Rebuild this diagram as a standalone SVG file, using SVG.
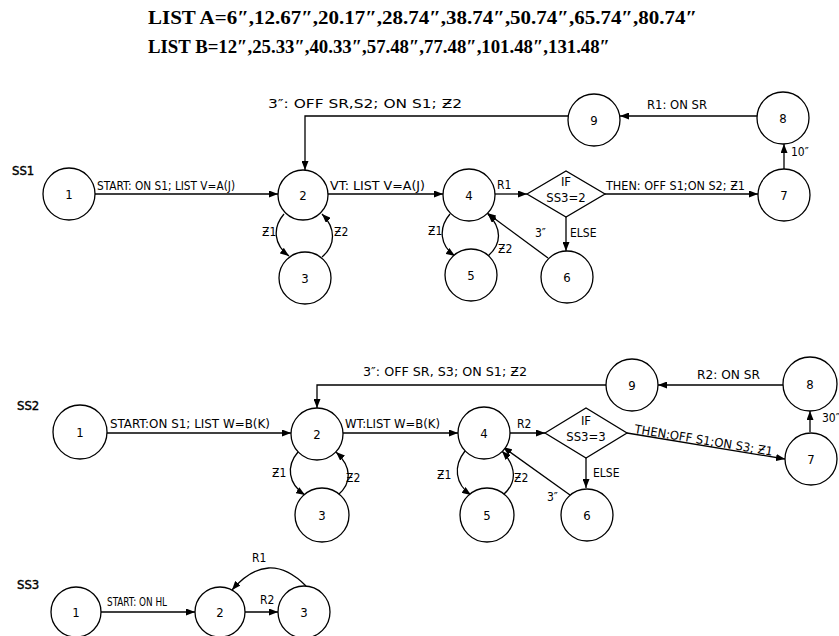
<svg xmlns="http://www.w3.org/2000/svg" width="839" height="636" viewBox="0 0 839 636">
<style>
.bg{fill:#fff}
.nd{fill:#fff;stroke:#000;stroke-width:1.3}
.ed{fill:none;stroke:#000;stroke-width:1.3}
.num{font-family:'DejaVu Sans Condensed','DejaVu Sans',sans-serif;font-stretch:condensed;font-size:13px;fill:#000;text-anchor:middle}
.lb{font-family:'DejaVu Sans Condensed','DejaVu Sans',sans-serif;font-stretch:condensed;font-size:12px;fill:#000}
.ss{font-family:'DejaVu Sans Condensed','DejaVu Sans',sans-serif;font-stretch:condensed;font-size:13px;fill:#000;stroke:#000;stroke-width:0.4}
.top{font-family:'Liberation Serif',serif;font-size:19px;fill:#000;font-weight:bold}
</style>
<defs>
<marker id="ah" markerUnits="userSpaceOnUse" markerWidth="9" markerHeight="7" refX="9" refY="3.5" orient="auto">
<path d="M0,0 L9,3.5 L0,7 z" fill="#000"/>
</marker>
</defs>
<rect class="bg" x="0" y="0" width="839" height="636"/>
<g id="header">
<text class="top" x="148" y="24" textLength="549" lengthAdjust="spacingAndGlyphs">LIST A=6″,12.67″,20.17″,28.74″,38.74″,50.74″,65.74″,80.74″</text>
<text class="top" x="148" y="53" textLength="462" lengthAdjust="spacingAndGlyphs">LIST B=12″,25.33″,40.33″,57.48″,77.48″,101.48″,131.48″</text>
</g>
<g id="connectors" marker-end="url(#ah)">
<path class="ed" d="M95,194 L278,194"/>
<path class="ed" d="M328,194 L443,194"/>
<path class="ed" d="M495,194 L527,194"/>
<path class="ed" d="M605,194 L758,194"/>
<path class="ed" d="M566,217 L566,251"/>
<path class="ed" d="M548,258 L487,213"/>
<path class="ed" d="M784,169 L784,144"/>
<path class="ed" d="M757,116 L620,116"/>
<path class="ed" d="M568,116 L305,116 L305,170"/>
<path class="ed" d="M284,214 C272,228 274,245 289,256"/>
<path class="ed" d="M322,257 C336,245 336,228 322,214"/>
<path class="ed" d="M450,214 C438,228 440,246 455,256"/>
<path class="ed" d="M488,256 C502,244 502,228 488,214"/>
<path class="ed" d="M107,433 L291,433"/>
<path class="ed" d="M343,433 L458,433"/>
<path class="ed" d="M510,433 L545,433"/>
<path class="ed" d="M627,433 L785,459"/>
<path class="ed" d="M586,458 L586,488"/>
<path class="ed" d="M570,495 L503,447"/>
<path class="ed" d="M810,432 L810,411"/>
<path class="ed" d="M783,385 L658,385"/>
<path class="ed" d="M607,385 L317,385 L317,408"/>
<path class="ed" d="M298,452 C286,466 288,484 305,495"/>
<path class="ed" d="M338,495 C352,483 352,467 336,452"/>
<path class="ed" d="M465,451 C453,466 455,484 471,495"/>
<path class="ed" d="M503,495 C517,483 517,467 502,451"/>
<path class="ed" d="M100,612 L195,612"/>
<path class="ed" d="M245,612 L278,612"/>
<path class="ed" d="M306,586 Q268,548 232,590"/>
</g>
<g id="edge-labels">
<text class="lb" x="97" y="190" textLength="138" lengthAdjust="spacingAndGlyphs">START: ON S1; LIST V=A(J)</text>
<text class="lb" x="330" y="190" textLength="95" lengthAdjust="spacingAndGlyphs">VT: LIST V=A(J)</text>
<text class="lb" x="262" y="236">Ƶ1</text>
<text class="lb" x="334" y="236">Ƶ2</text>
<text class="lb" x="268" y="108" textLength="194" lengthAdjust="spacingAndGlyphs">3″: OFF SR,S2; ON S1; Ƶ2</text>
<text class="lb" x="647" y="109" textLength="60" lengthAdjust="spacingAndGlyphs">R1: ON SR</text>
<text class="lb" x="791" y="156">10″</text>
<text class="lb" x="497" y="189">R1</text>
<text class="lb" x="606" y="190" textLength="139" lengthAdjust="spacingAndGlyphs">THEN: OFF S1;ON S2; Ƶ1</text>
<text class="lb" x="570" y="237">ELSE</text>
<text class="lb" x="535" y="237">3″</text>
<text class="lb" x="428" y="235">Ƶ1</text>
<text class="lb" x="498" y="253">Ƶ2</text>
<text class="lb" x="110" y="428" textLength="160" lengthAdjust="spacingAndGlyphs">START:ON S1; LIST W=B(K)</text>
<text class="lb" x="345" y="428" textLength="95" lengthAdjust="spacingAndGlyphs">WT:LIST W=B(K)</text>
<text class="lb" x="272" y="477">Ƶ1</text>
<text class="lb" x="346" y="482">Ƶ2</text>
<text class="lb" x="363" y="376" textLength="164" lengthAdjust="spacingAndGlyphs">3″: OFF SR, S3; ON S1; Ƶ2</text>
<text class="lb" x="697" y="379" textLength="63" lengthAdjust="spacingAndGlyphs">R2: ON SR</text>
<text class="lb" x="822" y="422">30″</text>
<text class="lb" x="517" y="428">R2</text>
<text class="lb" transform="translate(634,433) rotate(9.3)" x="0" y="0" textLength="140" lengthAdjust="spacingAndGlyphs">THEN:OFF S1;ON S3; Ƶ1</text>
<text class="lb" x="593" y="477">ELSE</text>
<text class="lb" x="547" y="501">3″</text>
<text class="lb" x="437" y="479">Ƶ1</text>
<text class="lb" x="514" y="482">Ƶ2</text>
<text class="lb" x="107" y="606" textLength="60" lengthAdjust="spacingAndGlyphs">START: ON HL</text>
<text class="lb" x="260" y="604">R2</text>
<text class="lb" x="252" y="562">R1</text>
</g>
<g id="ss1-label"><text class="ss" x="12" y="175">SS1</text></g>
<g id="ss1-n1"><circle class="nd" cx="69" cy="194" r="26"/><text class="num" x="69" y="199">1</text></g>
<g id="ss1-n2"><circle class="nd" cx="303" cy="195" r="25"/><text class="num" x="303" y="200">2</text></g>
<g id="ss1-n3"><circle class="nd" cx="305" cy="278" r="26"/><text class="num" x="305" y="283">3</text></g>
<g id="ss1-n4"><circle class="nd" cx="469" cy="195" r="26"/><text class="num" x="469" y="200">4</text></g>
<g id="ss1-n5"><circle class="nd" cx="471" cy="275" r="26"/><text class="num" x="471" y="280">5</text></g>
<g id="ss1-n6"><circle class="nd" cx="567" cy="277" r="26"/><text class="num" x="567" y="282">6</text></g>
<g id="ss1-n7"><circle class="nd" cx="784" cy="195" r="26"/><text class="num" x="784" y="200">7</text></g>
<g id="ss1-n8"><circle class="nd" cx="783" cy="118" r="26"/><text class="num" x="783" y="123">8</text></g>
<g id="ss1-n9"><circle class="nd" cx="594" cy="120" r="26"/><text class="num" x="594" y="125">9</text></g>
<g id="ss1-if"><polygon class="nd" points="527,194 566,171 605,194 566,217"/><text class="num" x="566" y="186" font-size="12">IF</text><text class="num" x="566" y="202" font-size="12">SS3=2</text></g>
<g id="ss2-label"><text class="ss" x="17" y="410">SS2</text></g>
<g id="ss2-n1"><circle class="nd" cx="80" cy="432" r="27"/><text class="num" x="80" y="437">1</text></g>
<g id="ss2-n2"><circle class="nd" cx="317" cy="434" r="26"/><text class="num" x="317" y="439">2</text></g>
<g id="ss2-n3"><circle class="nd" cx="322" cy="515" r="27"/><text class="num" x="322" y="520">3</text></g>
<g id="ss2-n4"><circle class="nd" cx="484" cy="433" r="26"/><text class="num" x="484" y="438">4</text></g>
<g id="ss2-n5"><circle class="nd" cx="487" cy="515" r="27"/><text class="num" x="487" y="520">5</text></g>
<g id="ss2-n6"><circle class="nd" cx="587" cy="515" r="26"/><text class="num" x="587" y="520">6</text></g>
<g id="ss2-n7"><circle class="nd" cx="811" cy="459" r="26"/><text class="num" x="811" y="464">7</text></g>
<g id="ss2-n8"><circle class="nd" cx="810" cy="384" r="27"/><text class="num" x="810" y="389">8</text></g>
<g id="ss2-n9"><circle class="nd" cx="632" cy="385" r="26"/><text class="num" x="632" y="390">9</text></g>
<g id="ss2-if"><polygon class="nd" points="545,433 586,408 627,433 586,458"/><text class="num" x="586" y="425" font-size="12">IF</text><text class="num" x="586" y="441" font-size="12">SS3=3</text></g>
<g id="ss3-label"><text class="ss" x="17" y="589">SS3</text></g>
<g id="ss3-n1"><circle class="nd" cx="76" cy="612" r="25"/><text class="num" x="76" y="617">1</text></g>
<g id="ss3-n2"><circle class="nd" cx="220" cy="612" r="25"/><text class="num" x="220" y="617">2</text></g>
<g id="ss3-n3"><circle class="nd" cx="304" cy="612" r="26"/><text class="num" x="304" y="617">3</text></g>
</svg>
